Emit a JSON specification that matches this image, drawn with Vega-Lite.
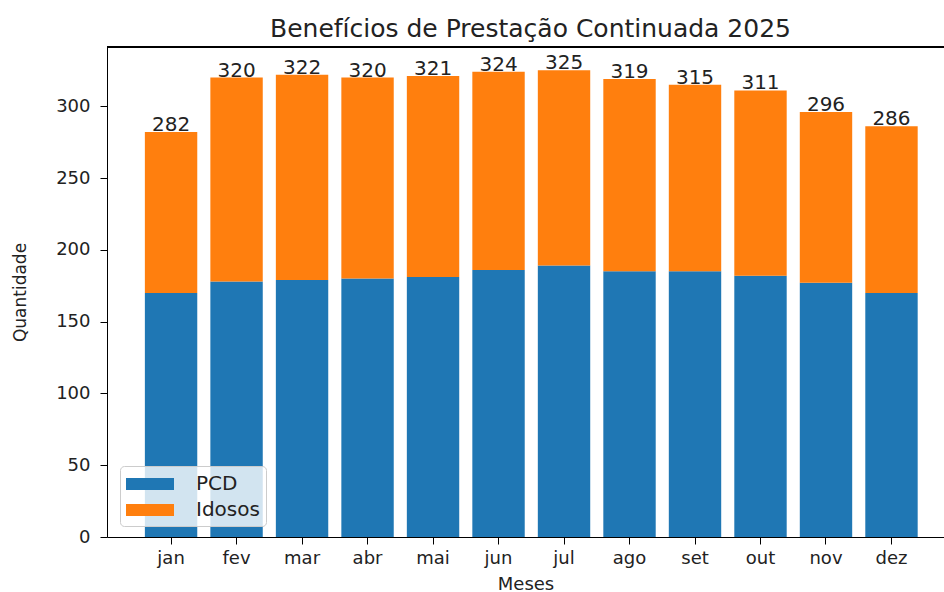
{
  "$schema": "https://vega.github.io/schema/vega-lite/v6.json",
  "width": 837,
  "height": 490,
  "autosize": {"type": "none"},
  "padding": {"left": 107, "top": 47, "right": 0, "bottom": 55},
  "background": "white",
  "title": {
    "text": "Benefícios de Prestação Continuada 2025",
    "font": "DejaVu Sans",
    "fontSize": 25,
    "fontWeight": "normal",
    "color": "#222222",
    "baseline": "alphabetic",
    "offset": 11,
    "dy": 26,
    "dx": 5
  },
  "config": {
    "view": {"stroke": null},
    "font": "DejaVu Sans",
    "axis": {"grid": false, "domainColor": "#000000", "tickColor": "#000000", "labelColor": "#222222", "titleColor": "#222222", "labelFont": "DejaVu Sans", "titleFont": "DejaVu Sans", "titleFontWeight": "normal"}
  },
  "data": {
    "values": [
      {"mes": "jan", "serie": "PCD", "valor": 170}, {"mes": "jan", "serie": "Idosos", "valor": 112},
      {"mes": "fev", "serie": "PCD", "valor": 178}, {"mes": "fev", "serie": "Idosos", "valor": 142},
      {"mes": "mar", "serie": "PCD", "valor": 179}, {"mes": "mar", "serie": "Idosos", "valor": 143},
      {"mes": "abr", "serie": "PCD", "valor": 180}, {"mes": "abr", "serie": "Idosos", "valor": 140},
      {"mes": "mai", "serie": "PCD", "valor": 181}, {"mes": "mai", "serie": "Idosos", "valor": 140},
      {"mes": "jun", "serie": "PCD", "valor": 186}, {"mes": "jun", "serie": "Idosos", "valor": 138},
      {"mes": "jul", "serie": "PCD", "valor": 189}, {"mes": "jul", "serie": "Idosos", "valor": 136},
      {"mes": "ago", "serie": "PCD", "valor": 185}, {"mes": "ago", "serie": "Idosos", "valor": 134},
      {"mes": "set", "serie": "PCD", "valor": 185}, {"mes": "set", "serie": "Idosos", "valor": 130},
      {"mes": "out", "serie": "PCD", "valor": 182}, {"mes": "out", "serie": "Idosos", "valor": 129},
      {"mes": "nov", "serie": "PCD", "valor": 177}, {"mes": "nov", "serie": "Idosos", "valor": 119},
      {"mes": "dez", "serie": "PCD", "valor": 170}, {"mes": "dez", "serie": "Idosos", "valor": 116}
    ]
  },
  "layer": [
    {
      "mark": {"type": "bar"},
      "encoding": {
        "x": {
          "field": "mes",
          "type": "nominal",
          "sort": ["jan", "fev", "mar", "abr", "mai", "jun", "jul", "ago", "set", "out", "nov", "dez"],
          "scale": {"paddingInner": 0.2, "paddingOuter": 0.49, "align": 0.59},
          "axis": {"title": "Meses", "labelAngle": 0, "labelFontSize": 18, "titleFontSize": 18, "tickSize": 7, "labelPadding": 5, "titlePadding": 8, "domainWidth": 1}
        },
        "y": {
          "field": "valor",
          "type": "quantitative",
          "aggregate": "sum",
          "stack": "zero",
          "scale": {"domain": [0, 341.25], "nice": false},
          "axis": {"title": "Quantidade", "values": [0, 50, 100, 150, 200, 250, 300], "labelFontSize": 18, "titleFontSize": 17, "tickSize": 7, "labelPadding": 10, "titlePadding": 26}
        },
        "color": {
          "field": "serie",
          "type": "nominal",
          "scale": {"domain": ["PCD", "Idosos"], "range": ["#1f77b4", "#ff7f0e"]},
          "legend": {
            "orient": "none",
            "legendX": 13,
            "legendY": 419,
            "title": null,
            "fillColor": "rgba(255,255,255,0.8)",
            "strokeColor": "#cccccc",
            "cornerRadius": 4,
            "padding": 6,
            "symbolType": "M-1,-0.5H3V0.5H-1Z",
            "symbolSize": 576,
            "symbolStrokeWidth": 0,
            "symbolOpacity": 1,
            "labelFontSize": 20,
            "labelColor": "#222222",
            "labelOffset": 46,
            "rowPadding": 4
          }
        },
        "order": {"field": "serie", "sort": "descending"}
      }
    },
    {
      "transform": [{"aggregate": [{"op": "sum", "field": "valor", "as": "total"}], "groupby": ["mes"]}],
      "mark": {"type": "text", "baseline": "alphabetic", "dy": -1, "fontSize": 20, "color": "#222222"},
      "encoding": {
        "x": {"field": "mes", "type": "nominal", "sort": ["jan", "fev", "mar", "abr", "mai", "jun", "jul", "ago", "set", "out", "nov", "dez"]},
        "y": {"field": "total", "type": "quantitative"},
        "text": {"field": "total", "type": "quantitative"}
      }
    },
    {
      "mark": {"type": "rule", "color": "#000000", "strokeWidth": 1},
      "encoding": {"y": {"datum": 341.25}}
    }
  ]
}
